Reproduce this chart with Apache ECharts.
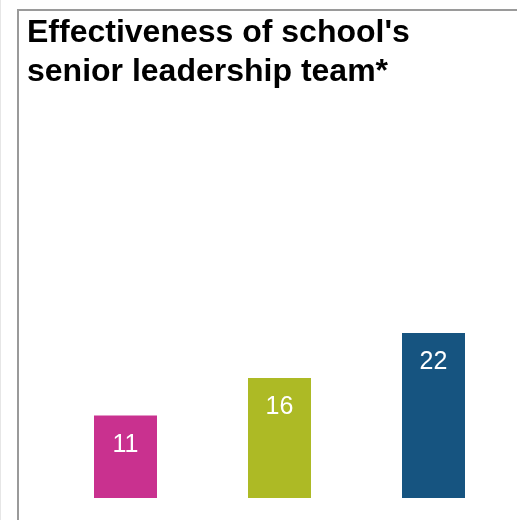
<!DOCTYPE html>
<html>
<head>
<meta charset="utf-8">
<script src="https://cdn.jsdelivr.net/npm/echarts@6/dist/echarts.min.js"></script>
<style>
  html, body { margin: 0; padding: 0; background: #fff; }
  #chart { width: 517px; height: 520px; }
</style>
</head>
<body>
<div id="chart"></div>
<script>
// Chart data
const titleText = "Effectiveness of school's\nsenior leadership team*";
const categories = ['Group 1', 'Group 2', 'Group 3'];
const values = [11, 16, 22];
const barColors = ['#C9318F', '#ADBA25', '#165480'];

const chart = echarts.init(document.getElementById('chart'), null, { renderer: 'canvas' });

chart.setOption({
  backgroundColor: '#ffffff',
  animation: false,
  title: {
    text: titleText,
    left: 22,
    top: 9,
    textStyle: {
      fontFamily: 'Liberation Sans, Arial, sans-serif',
      fontWeight: 'bold',
      fontSize: 32,
      lineHeight: 39,
      color: '#000000'
    }
  },
  graphic: [
    {
      type: 'rect',
      silent: true,
      shape: { x: 18, y: 10, width: 620, height: 620 },
      style: { fill: 'none', stroke: '#9a9a9a', lineWidth: 2 }
    },
    {
      type: 'line',
      silent: true,
      shape: { x1: 0.5, y1: 0, x2: 0.5, y2: 520 },
      style: { stroke: '#e6e6e6', lineWidth: 1 }
    }
  ],
  grid: { left: 48.5, right: 6.5, top: 273, bottom: 22, containLabel: false },
  xAxis: {
    type: 'category',
    data: categories,
    show: false
  },
  yAxis: {
    type: 'value',
    min: 0,
    max: 30,
    show: false
  },
  series: [{
    type: 'bar',
    data: values.map((v, i) => ({ value: v, itemStyle: { color: barColors[i] } })),
    barWidth: 63,
    label: {
      show: true,
      position: 'insideTop',
      distance: 17,
      color: '#ffffff',
      fontFamily: 'Liberation Sans, Arial, sans-serif',
      fontSize: 25
    }
  }]
});
</script>
</body>
</html>
